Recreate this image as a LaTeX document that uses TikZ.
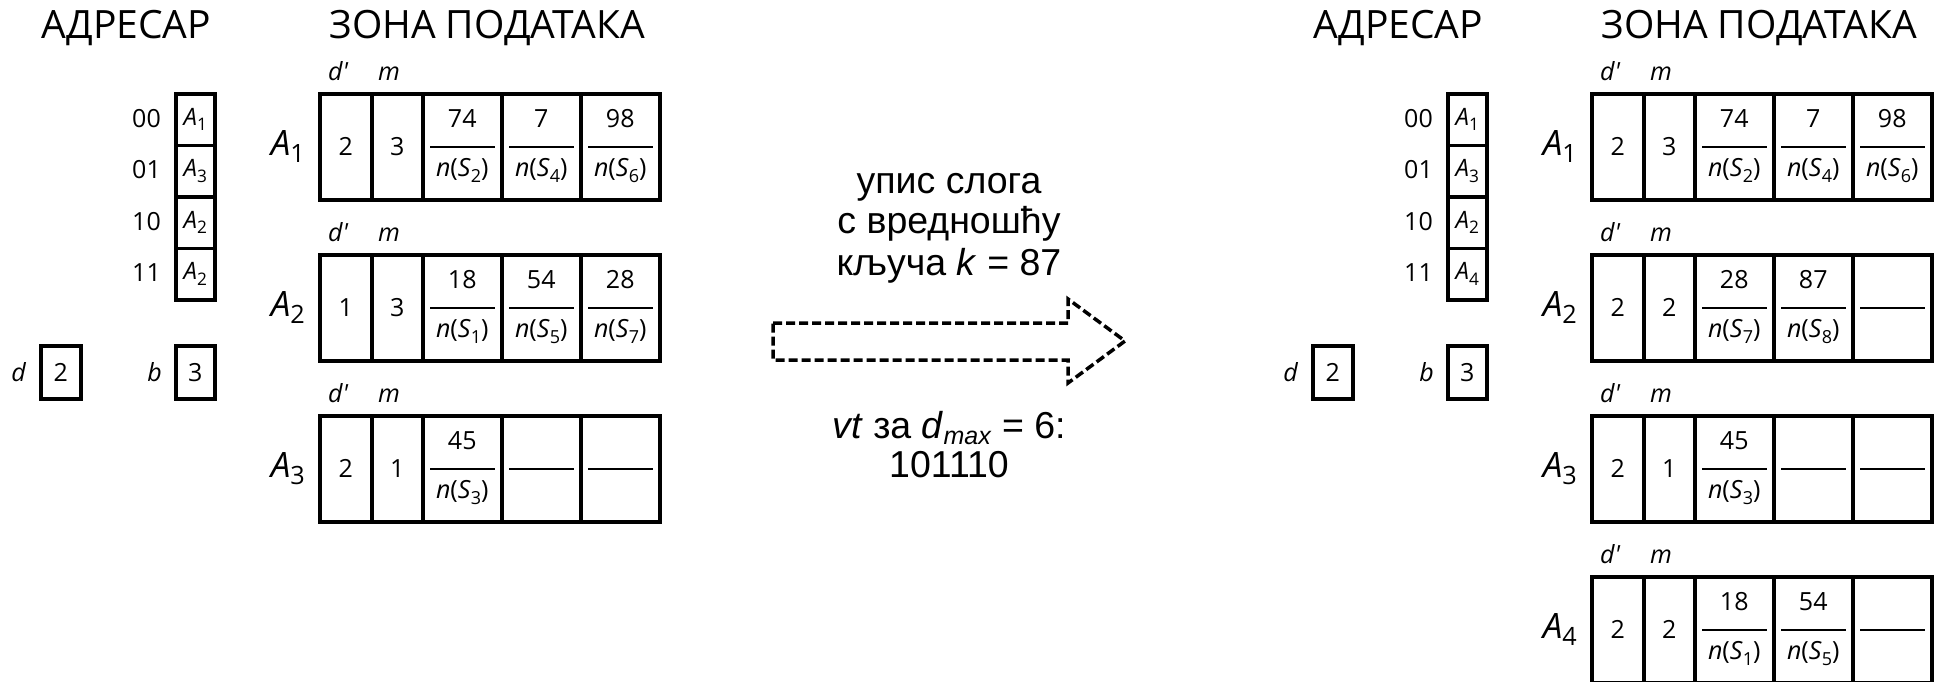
\documentclass[tikz,border=0pt]{standalone}
\usepackage{graphicx}
\usepackage{fontspec}
\setmainfont{Open Sans}
\newfontfamily\ls{Liberation Sans}
\newcommand\sub[1]{\raisebox{-0.22em}{\scalebox{0.72}{#1}}}
\newcommand\fs[1]{\fontsize{#1}{#1}\selectfont}
\tikzset{
  x=1pt, y=-1pt,
  box/.style={draw, line width=3.5pt, inner sep=0pt, anchor=north west},
  cell/.style={box, minimum height=106pt},
  fline/.style={line width=2pt},
  num/.style={inner sep=0pt, font=\fs{25}},
  lab/.style={inner sep=0pt, font=\fs{25}\itshape},
  dirtxt/.style={font=\fs{24}},
  ttl/.style={inner sep=0pt, font=\fs{39}, anchor=base},
  big/.style={inner sep=0pt, font=\fs{35}, anchor=base east},
  mid/.style={inner sep=0pt, font=\ls\fs{37.5}, anchor=base},
  dasharrow/.style={line width=3.5pt, dash pattern=on 9pt off 4pt},
}
% bucket frame: prefix, x0, y0, label index, d', m
\newcommand\bucket[6]{%
  \node[cell, minimum width=52pt] (#1d) at (#2,#3) {};
  \node[num] (#1dv) at (#1d.center) {#5};
  \node[cell, minimum width=51pt] (#1m) at (#2+52,#3) {};
  \node[num] (#1mv) at (#1m.center) {#6};
  \node[lab, anchor=base] (#1dl) at (#2+20,#3-12) {d\textquotesingle};
  \node[lab, anchor=base] (#1ml) at (#2+71,#3-12) {m};
  \node[big] (#1n) at (#2-13,#3+63) {\textit{A}\sub{#4}};
}
% record cell: name, x, y, key, record index
\newcommand\fcell[5]{%
  \node[cell, minimum width=79pt] (#1) at (#2,#3) {};
  \draw[fline] ([xshift=9pt]#1.west) -- ([xshift=-9pt]#1.east);
  \node[num, anchor=base] (#1t) at ([yshift=19pt]#1.center) {#4};
  \node[num, anchor=base] (#1b) at ([yshift=-30pt]#1.center) {\textit{n}(\textit{S}\sub{#5})};
}
% empty cell: name, x, y
\newcommand\ecell[3]{%
  \node[cell, minimum width=79pt] (#1) at (#2,#3) {};
  \draw[fline] ([xshift=9pt]#1.west) -- ([xshift=-9pt]#1.east);
}
% directory: prefix, xoffset, four indices
\newcommand\directory[6]{%
  \node[ttl] (#1title) at (126.5+#2,38) {АДРЕСАР};
  \node[ttl] (#1ztitle) at (487+#2,38) {ЗОНА ПОДАТАКА};
  \node[box, dirtxt, minimum width=39pt, minimum height=51.5pt] (#1r0) at (174+#2,92) {\textit{A}\sub{#3}};
  \node[box, dirtxt, minimum width=39pt, minimum height=51.5pt] (#1r1) at (174+#2,143.5) {\textit{A}\sub{#4}};
  \node[box, dirtxt, minimum width=39pt, minimum height=51.5pt] (#1r2) at (174+#2,195) {\textit{A}\sub{#5}};
  \node[box, dirtxt, minimum width=39pt, minimum height=51.5pt] (#1r3) at (174+#2,246.5) {\textit{A}\sub{#6}};
  \node[num, anchor=base east] (#1l0) at (161+#2,127) {00};
  \node[num, anchor=base east] (#1l1) at (161+#2,178.5) {01};
  \node[num, anchor=base east] (#1l2) at (161+#2,230) {10};
  \node[num, anchor=base east] (#1l3) at (161+#2,281.5) {11};
  \node[box, num, minimum width=40pt, minimum height=53pt] (#1dbox) at (39+#2,344) {2};
  \node[box, num, minimum width=39pt, minimum height=53pt] (#1bbox) at (174+#2,344) {3};
  \node[lab, anchor=east] (#1dlab) at ([xshift=-13pt]#1dbox.west) {d};
  \node[lab, anchor=east] (#1blab) at ([xshift=-12pt]#1bbox.west) {b};
}
\begin{document}
\begin{tikzpicture}
\useasboundingbox (0,0) rectangle (1936,681);

% ---------- left state ----------
\directory{L}{0}{1}{3}{2}{2}
\bucket{LA}{318}{92}{1}{2}{3}
\fcell{LAa}{421}{92}{74}{2}
\fcell{LAb}{500}{92}{7}{4}
\fcell{LAc}{579}{92}{98}{6}
\bucket{LB}{318}{253}{2}{1}{3}
\fcell{LBa}{421}{253}{18}{1}
\fcell{LBb}{500}{253}{54}{5}
\fcell{LBc}{579}{253}{28}{7}
\bucket{LC}{318}{414}{3}{2}{1}
\fcell{LCa}{421}{414}{45}{3}
\ecell{LCb}{500}{414}
\ecell{LCc}{579}{414}

% ---------- middle ----------
\node[mid] (t1) at (949,193) {упис слога};
\node[mid] (t2) at (949,233) {с вредношћу};
\node[mid] (t3) at (949,275) {кључа \textit{k} = 87};
\node[mid] (t4) at (949,438) {\textit{vt} за \textit{d}\raisebox{-0.18em}{\fs{25}\textit{max}} = 6:};
\node[mid] (t5) at (949,477) {101110};
\draw[dasharrow] (773,323) -- (1068,323) -- (1068,299) -- (1125,341)
  -- (1068,383) -- (1068,360) -- (773,360) -- cycle;

% ---------- right state ----------
\directory{R}{1272}{1}{3}{2}{4}
\bucket{RA}{1590}{92}{1}{2}{3}
\fcell{RAa}{1693}{92}{74}{2}
\fcell{RAb}{1772}{92}{7}{4}
\fcell{RAc}{1851}{92}{98}{6}
\bucket{RB}{1590}{253}{2}{2}{2}
\fcell{RBa}{1693}{253}{28}{7}
\fcell{RBb}{1772}{253}{87}{8}
\ecell{RBc}{1851}{253}
\bucket{RC}{1590}{414}{3}{2}{1}
\fcell{RCa}{1693}{414}{45}{3}
\ecell{RCb}{1772}{414}
\ecell{RCc}{1851}{414}
\bucket{RD}{1590}{575}{4}{2}{2}
\fcell{RDa}{1693}{575}{18}{1}
\fcell{RDb}{1772}{575}{54}{5}
\ecell{RDc}{1851}{575}
\end{tikzpicture}
\end{document}
